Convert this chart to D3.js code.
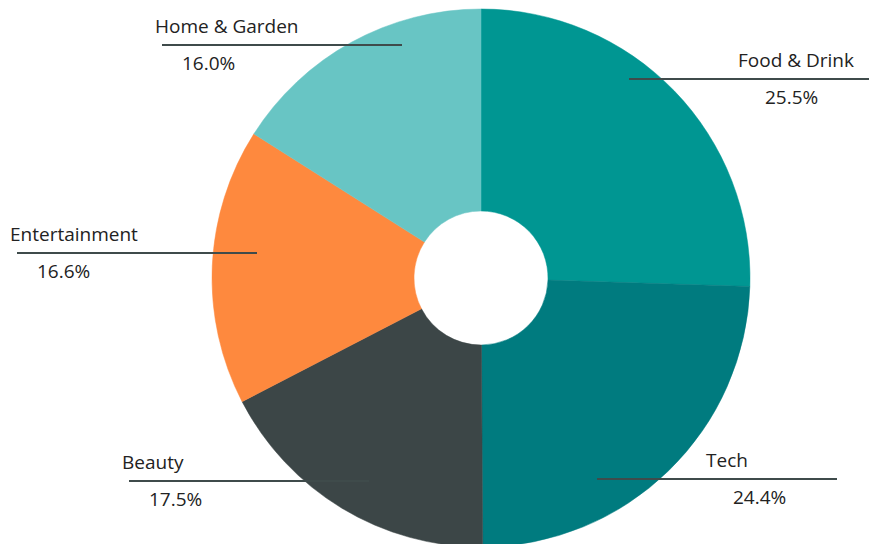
<!DOCTYPE html>
<html><head><meta charset="utf-8">
<script src="https://cdn.jsdelivr.net/npm/d3@7"></script>
<style>
html,body{margin:0;padding:0;background:#fff;}
svg{display:block;}
text{font-family:"Open Sans",Lato,sans-serif;fill:#222;}
</style></head>
<body>
<svg id="chart" width="869" height="544"></svg>
<script>
const categories = ["Food & Drink","Tech","Beauty","Entertainment","Home & Garden"];
const values = [25.5, 24.4, 17.5, 16.6, 16.0];
const colors = ["#009692","#007b7f","#3c4647","#fe893e","#68c5c4"];
// label leader-line layout (inner end point, side)
const labelAnchors = [[629,79],[597,479],[369,481],[257,253],[402,45]];
const labelSides = ["right","right","left","left","left"];

const W = 869, H = 544;
const cx = 481, cy = 278, outerR = 269, innerR = 67;
const svg = d3.select("#chart");
const data = categories.map((c,i)=>({cat:c, value:values[i], color:colors[i], anchor:labelAnchors[i], side:labelSides[i]}));

const pie = d3.pie().value(d=>d.value).sort(null);
const arc = d3.arc().innerRadius(innerR).outerRadius(outerR);
const g = svg.append("g").attr("transform",`translate(${cx},${cy})`);
g.selectAll("path").data(pie(data)).join("path")
  .attr("d",arc).attr("fill",d=>d.data.color)
  .attr("stroke",d=>d.data.color).attr("stroke-width",0.5);

const lineLen = 240;
const lg = svg.append("g");
data.forEach(d=>{
  const [ax,ay] = d.anchor;
  const x0 = d.side==="right" ? ax : ax - lineLen;
  const x1 = x0 + lineLen;
  lg.append("line").attr("x1",x0).attr("x2",x1).attr("y1",ay).attr("y2",ay)
    .attr("stroke","#3f4b4b").attr("stroke-width",2);
  const tx = d.side==="right" ? x0 + 109 : x0 - 7;
  lg.append("text").attr("x",tx).attr("y",ay-12).attr("font-size",19).text(d.cat);
  lg.append("text").attr("x",tx+27).attr("y",ay+25).attr("font-size",19).text(d.value.toFixed(1)+"%");
});
</script>
</body></html>
